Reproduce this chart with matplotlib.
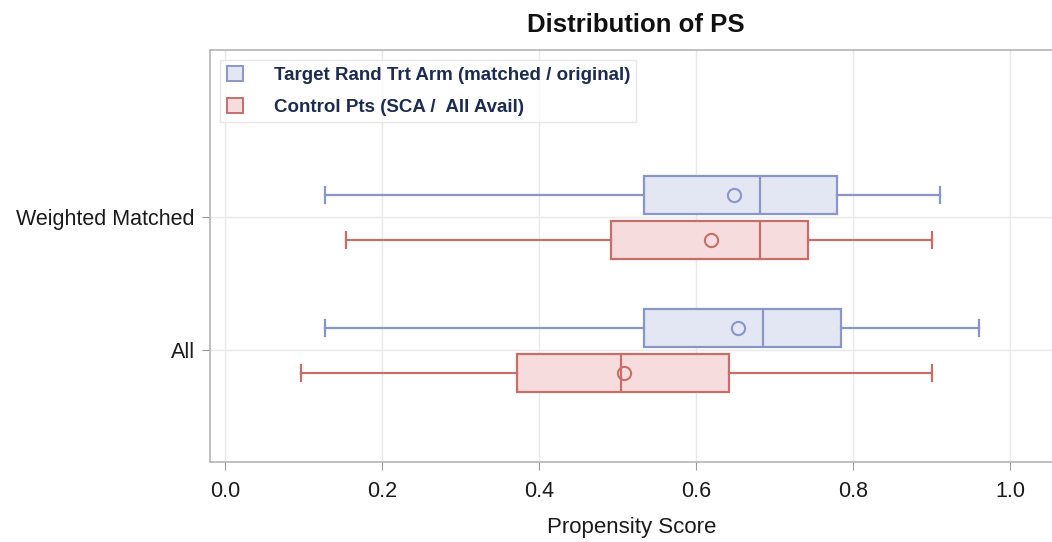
import matplotlib
matplotlib.use("Agg")
import matplotlib.pyplot as plt
from matplotlib.patches import Patch

plt.rcParams['font.family'] = ['Liberation Sans', 'DejaVu Sans']

# Propensity score summaries per analysis set
categories = ["All", "Weighted Matched"]
series_names = ["Target Rand Trt Arm (matched / original)", "Control Pts (SCA /  All Avail)"]

target_whislo = [0.127, 0.127]
target_q1 = [0.534, 0.534]
target_med = [0.685, 0.682]
target_q3 = [0.784, 0.779]
target_whishi = [0.960, 0.911]
target_mean = [0.653, 0.648]

control_whislo = [0.097, 0.154]
control_q1 = [0.372, 0.492]
control_med = [0.505, 0.682]
control_q3 = [0.642, 0.743]
control_whishi = [0.900, 0.901]
control_mean = [0.508, 0.619]

x_ticks = [0.0, 0.2, 0.4, 0.6, 0.8, 1.0]

blue_edge, blue_fill = "#8a95c9", "#e3e7f3"
red_edge, red_fill = "#c86e6a", "#f6dcdc"

fig = plt.figure(figsize=(10.52, 5.42), dpi=100)
ax = fig.add_axes([0.1996, 0.1476, 0.8010, 0.7601])

def stats(lo, q1, med, q3, hi, mean):
    return [dict(whislo=a, q1=b, med=c, q3=d, whishi=e, mean=f, fliers=[])
            for a, b, c, d, e, f in zip(lo, q1, med, q3, hi, mean)]

offset = 0.17
width = 0.29
groups = [
    (stats(target_whislo, target_q1, target_med, target_q3, target_whishi, target_mean), +offset, blue_edge, blue_fill),
    (stats(control_whislo, control_q1, control_med, control_q3, control_whishi, control_mean), -offset, red_edge, red_fill),
]
for st, off, ec, fc in groups:
    pos = [i + off for i in range(len(categories))]
    ax.bxp(st, positions=pos, widths=width, vert=False, patch_artist=True,
           showmeans=True, showfliers=False,
           boxprops=dict(facecolor=fc, edgecolor=ec, linewidth=1.6),
           medianprops=dict(color=ec, linewidth=1.6),
           whiskerprops=dict(color=ec, linewidth=1.6),
           capprops=dict(color=ec, linewidth=1.6),
           capwidths=0.12,
           meanprops=dict(marker='o', markerfacecolor='none', markeredgecolor=ec,
                          markersize=9.5, markeredgewidth=1.5),
           zorder=3)

ax.set_xlim(-0.019, 1.054)
ax.set_ylim(-0.84, 2.26)
ax.set_xticks(x_ticks)
ax.set_xticklabels([f"{t:.1f}" for t in x_ticks], fontsize=15.5)
ax.set_yticks(range(len(categories)))
ax.set_yticklabels(categories, fontsize=15.5)
ax.tick_params(axis='both', colors='#999999', labelcolor='#1a1a1a', length=6)
ax.tick_params(axis='x', pad=7.5)
ax.tick_params(axis='y', pad=5)
ax.grid(True, color='#e9e9e9', linewidth=1.0, zorder=0)
ax.set_axisbelow(True)
for s in ax.spines.values():
    s.set_color('#b5b5b5')
    s.set_linewidth(1.2)

ax.set_xlabel("Propensity Score", fontsize=16, color='#1a1a1a', labelpad=11)
fig.text(636 / 1052, 1 - 25 / 542, "Distribution of PS", ha='center', va='center',
         fontsize=18.5, fontweight='bold', color='#111111')

handles = [Patch(facecolor=blue_fill, edgecolor=blue_edge, linewidth=1.4),
           Patch(facecolor=red_fill, edgecolor=red_edge, linewidth=1.4)]
leg = ax.legend(handles, series_names, loc='upper left', bbox_to_anchor=(0.012, 0.976),
                frameon=True, fontsize=13.5, handlelength=0.85, handleheight=0.85,
                handletextpad=1.65, labelspacing=0.72, borderpad=0.35, borderaxespad=0.0)
leg.get_frame().set_edgecolor('#e2e2e2')
leg.get_frame().set_boxstyle('square', pad=0)
for t in leg.get_texts():
    t.set_color('#1c2b4f')
    t.set_fontweight('bold')

fig.savefig("out.png", dpi=100)
